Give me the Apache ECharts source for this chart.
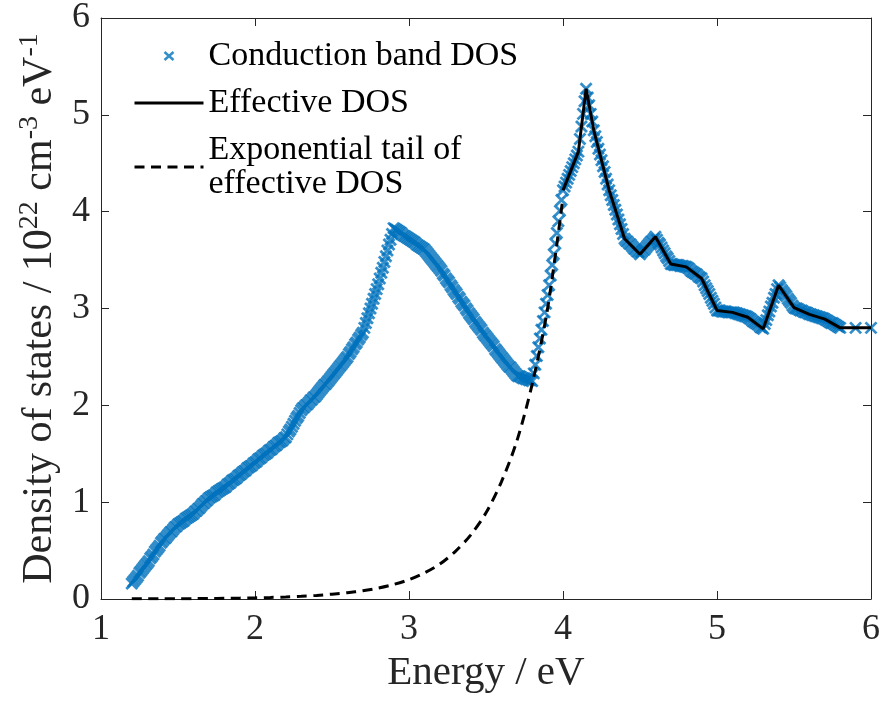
<!DOCTYPE html>
<html>
<head>
<meta charset="utf-8">
<script src="https://cdn.jsdelivr.net/npm/echarts@6/dist/echarts.min.js"></script>
<style>
  html, body { margin: 0; padding: 0; background: #fff; }
  #chart { width: 883px; height: 706px; }
</style>
</head>
<body>
<div id="chart"></div>
<script>
// Conduction band DOS, sampled every 0.01 eV from 1.20 eV to 5.80 eV
const CB_START = 1.2;
const CB_STEP = 0.01;
const cbValues = [
  0.16,0.18,0.20,0.22,0.24,0.27,0.29,0.31,0.33,0.35,
  0.37,0.39,0.42,0.44,0.46,0.49,0.51,0.53,0.55,0.58,
  0.60,0.62,0.63,0.65,0.67,0.69,0.70,0.72,0.74,0.75,
  0.77,0.78,0.79,0.80,0.81,0.83,0.84,0.85,0.86,0.87,
  0.88,0.90,0.91,0.93,0.94,0.96,0.98,0.99,1.01,1.02,
  1.04,1.05,1.06,1.07,1.08,1.10,1.11,1.12,1.13,1.14,
  1.15,1.16,1.18,1.19,1.20,1.22,1.23,1.24,1.25,1.27,
  1.28,1.29,1.31,1.32,1.33,1.35,1.36,1.37,1.38,1.40,
  1.41,1.42,1.44,1.45,1.46,1.48,1.49,1.50,1.51,1.53,
  1.54,1.55,1.57,1.58,1.59,1.61,1.62,1.63,1.64,1.66,
  1.67,1.70,1.73,1.75,1.78,1.81,1.84,1.87,1.89,1.92,
  1.95,1.97,1.98,2.00,2.01,2.03,2.05,2.06,2.08,2.09,
  2.11,2.13,2.15,2.17,2.19,2.21,2.22,2.24,2.26,2.28,
  2.30,2.32,2.34,2.36,2.38,2.40,2.42,2.44,2.46,2.48,
  2.50,2.53,2.55,2.58,2.60,2.63,2.65,2.68,2.70,2.73,
  2.75,2.80,2.85,2.90,2.95,3.00,3.05,3.10,3.15,3.20,
  3.25,3.31,3.37,3.42,3.48,3.54,3.60,3.66,3.71,3.77,
  3.83,3.82,3.81,3.80,3.79,3.78,3.76,3.75,3.74,3.73,
  3.72,3.71,3.70,3.69,3.68,3.66,3.65,3.64,3.63,3.62,
  3.61,3.59,3.57,3.55,3.53,3.51,3.49,3.47,3.45,3.43,
  3.41,3.39,3.36,3.34,3.31,3.29,3.27,3.24,3.22,3.19,
  3.17,3.15,3.12,3.10,3.07,3.05,3.03,3.00,2.98,2.95,
  2.93,2.91,2.89,2.86,2.84,2.82,2.80,2.78,2.75,2.73,
  2.71,2.69,2.67,2.65,2.63,2.61,2.58,2.56,2.54,2.52,
  2.50,2.48,2.46,2.44,2.42,2.40,2.39,2.37,2.35,2.33,
  2.31,2.30,2.30,2.29,2.28,2.28,2.27,2.27,2.26,2.26,
  2.25,2.33,2.42,2.51,2.60,2.69,2.78,2.87,2.96,3.05,
  3.14,3.24,3.34,3.45,3.56,3.67,3.78,3.90,4.01,4.12,
  4.22,4.26,4.30,4.34,4.38,4.42,4.46,4.50,4.54,4.58,
  4.62,4.75,4.88,5.01,5.14,5.27,5.18,5.10,5.01,4.93,
  4.84,4.78,4.72,4.65,4.59,4.53,4.47,4.41,4.34,4.28,
  4.22,4.17,4.12,4.07,4.02,3.97,3.92,3.87,3.82,3.77,
  3.72,3.70,3.69,3.67,3.66,3.64,3.62,3.61,3.59,3.58,
  3.56,3.58,3.60,3.61,3.63,3.65,3.67,3.69,3.70,3.72,
  3.74,3.71,3.68,3.66,3.63,3.60,3.57,3.54,3.52,3.49,
  3.46,3.46,3.45,3.45,3.45,3.45,3.44,3.44,3.44,3.43,
  3.43,3.42,3.41,3.39,3.38,3.37,3.36,3.35,3.33,3.32,
  3.31,3.28,3.24,3.21,3.18,3.15,3.11,3.08,3.05,3.01,
  2.98,2.98,2.98,2.97,2.97,2.97,2.97,2.96,2.96,2.96,
  2.96,2.96,2.95,2.95,2.94,2.94,2.93,2.93,2.92,2.92,
  2.91,2.90,2.89,2.87,2.86,2.85,2.84,2.83,2.81,2.80,
  2.79,2.84,2.88,2.93,2.97,3.02,3.06,3.11,3.15,3.20,
  3.24,3.22,3.19,3.17,3.15,3.13,3.10,3.08,3.06,3.03,
  3.01,3.00,3.00,2.99,2.98,2.98,2.97,2.96,2.96,2.95,
  2.94,2.94,2.93,2.93,2.92,2.92,2.91,2.91,2.90,2.90,
  2.89,2.88,2.87,2.86,2.85,2.85,2.84,2.83,2.82,2.81,
  2.80
];
// Two coarser samples at the top of the energy range
const cbTailEnergy = [5.9, 6.0];
const cbTailValues = [2.80, 2.80];

// Effective DOS above 4 eV
const effEnergy = [4.0, 4.1, 4.15, 4.2, 4.3, 4.4, 4.5, 4.6, 4.7, 4.8, 4.9,
                   5.0, 5.1, 5.2, 5.3, 5.4, 5.5, 5.6, 5.7, 5.8, 5.9, 6.0];
const effValues = [4.22, 4.62, 5.27, 4.84, 4.22, 3.72, 3.56, 3.74, 3.46, 3.43, 3.31,
                   2.98, 2.96, 2.91, 2.79, 3.24, 3.01, 2.94, 2.89, 2.80, 2.80, 2.80];

// Exponential tail of the effective DOS
const tailEnergy = [1.2, 1.3, 1.4, 1.5, 1.6, 1.7, 1.8, 1.9, 2.0, 2.1, 2.2, 2.3, 2.4,
                    2.5, 2.6, 2.7, 2.8, 2.9, 3.0, 3.1, 3.2, 3.3, 3.4, 3.5, 3.6, 3.7,
                    3.8, 3.9, 4.0];
const tailValues = [0.002, 0.002, 0.003, 0.003, 0.004, 0.005, 0.007, 0.009, 0.012,
                    0.016, 0.021, 0.028, 0.037, 0.050, 0.065, 0.085, 0.113, 0.150,
                    0.200, 0.270, 0.360, 0.490, 0.660, 0.890, 1.210, 1.630, 2.220,
                    3.000, 4.150];

const xTicks = { min: 1, max: 6, interval: 1 };
const yTicks = { min: 0, max: 6, interval: 1 };

const SERIF = '"Liberation Serif", "Times New Roman", serif';
const AXIS_COLOR = '#262626';
const BLUE = '#0072BD';

const cbData = cbValues.map((v, i) => [+(CB_START + i * CB_STEP).toFixed(2), v])
  .concat(cbTailEnergy.map((e, i) => [e, cbTailValues[i]]));
const effData = effEnergy.map((e, i) => [e, effValues[i]]);
const tailData = tailEnergy.map((e, i) => [e, tailValues[i]]);

const CROSS = 'path://M0,0L10,10M10,0L0,10';

function boxAxis(base, pos, showLabel) {
  return Object.assign({
    type: 'value',
    position: pos,
    splitLine: { show: false },
    axisLine: { show: true, onZero: false, lineStyle: { color: AXIS_COLOR, width: 1 } },
    axisTick: { show: true, inside: true, length: 8, lineStyle: { color: AXIS_COLOR, width: 1 } },
    axisLabel: { show: showLabel, fontFamily: SERIF, fontSize: 36, color: AXIS_COLOR }
  }, base);
}

const chart = echarts.init(document.getElementById('chart'), null, { renderer: 'canvas' });

chart.setOption({
  animation: false,
  backgroundColor: '#fff',
  grid: { left: 101, right: 12, top: 14, bottom: 107, containLabel: false },
  legend: {
    orient: 'vertical',
    left: 133,
    top: 39,
    padding: 0,
    itemWidth: 69,
    itemHeight: 12,
    itemGap: 13,
    selectedMode: false,
    textStyle: { fontFamily: SERIF, fontSize: 34, color: '#000', lineHeight: 34 },
    data: [
      {
        name: 'Conduction band DOS',
        icon: 'path://M0,0M12,12M1.5,2L10.5,10M10.5,2L1.5,10',
        itemStyle: { color: BLUE, borderColor: BLUE, borderWidth: 2.5 }
      },
      {
        name: 'Effective DOS',
        icon: 'path://M0,0M69,12M0,6L69,6',
        itemStyle: { color: '#000', borderColor: '#000', borderWidth: 3 }
      },
      {
        name: 'Exponential tail of\neffective DOS',
        icon: 'path://M0,0M69,12M0,6L69,6',
        itemStyle: { color: '#000', borderColor: '#000', borderWidth: 3, borderType: [10, 6.5] },
        textStyle: { padding: [0, 0, -34, 0] }
      }
    ]
  },
  xAxis: [
    boxAxis({
      min: xTicks.min, max: xTicks.max, interval: xTicks.interval,
      name: 'Energy / eV',
      nameLocation: 'middle',
      nameGap: 50,
      nameTextStyle: { fontFamily: SERIF, fontSize: 41, color: AXIS_COLOR },
      axisLabel: { show: true, fontFamily: SERIF, fontSize: 36, color: AXIS_COLOR, margin: 13 }
    }, 'bottom', true),
    boxAxis({ min: xTicks.min, max: xTicks.max, interval: xTicks.interval }, 'top', false)
  ],
  yAxis: [
    boxAxis({
      min: yTicks.min, max: yTicks.max, interval: yTicks.interval,
      name: '{t|Density of states / 10}{s|22}{t| cm}{s|-3}{t| eV}{s|-1}',
      nameLocation: 'middle',
      nameRotate: 90,
      nameGap: 28,
      nameTextStyle: {
        fontFamily: SERIF, fontSize: 42, color: AXIS_COLOR,
        rich: {
          t: { fontFamily: SERIF, fontSize: 42, color: AXIS_COLOR, lineHeight: 48 },
          s: { fontFamily: SERIF, fontSize: 28, color: AXIS_COLOR, verticalAlign: 'top', lineHeight: 28 }
        }
      },
      axisLabel: { show: true, fontFamily: SERIF, fontSize: 36, color: AXIS_COLOR, margin: 11 }
    }, 'left', true),
    boxAxis({ min: yTicks.min, max: yTicks.max, interval: yTicks.interval }, 'right', false)
  ],
  series: [
    {
      name: 'Conduction band DOS',
      type: 'scatter',
      data: cbData,
      symbol: CROSS,
      symbolSize: 11,
      clip: false,
      itemStyle: { color: BLUE, borderColor: BLUE, borderWidth: 2.8 },
      emphasis: { disabled: true }
    },
    {
      name: 'Exponential tail of\neffective DOS',
      type: 'line',
      data: tailData,
      symbol: 'none',
      smooth: 0.3,
      lineStyle: { color: '#000', width: 3, type: [10, 6.5] },
      emphasis: { disabled: true }
    },
    {
      name: 'Effective DOS',
      type: 'line',
      data: effData,
      symbol: 'none',
      lineStyle: { color: '#000', width: 3 },
      emphasis: { disabled: true }
    }
  ]
});
</script>
</body>
</html>
